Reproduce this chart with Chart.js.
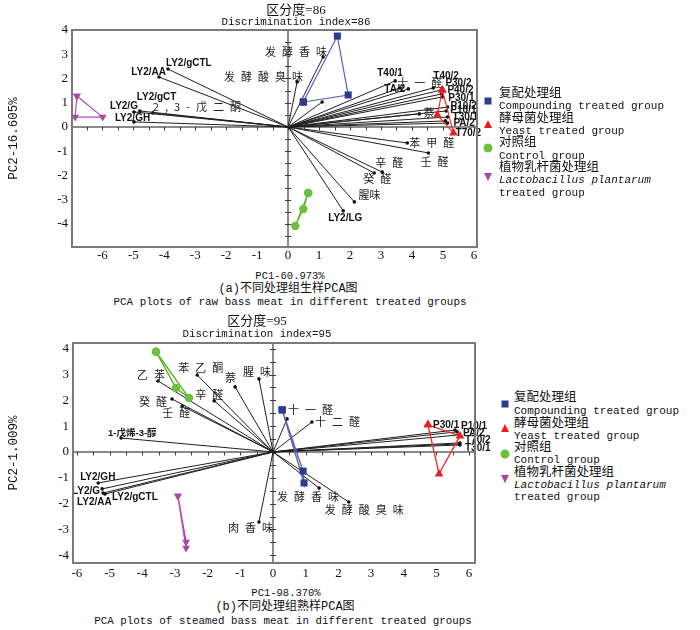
<!DOCTYPE html>
<html><head><meta charset="utf-8">
<script src="https://cdn.jsdelivr.net/npm/chart.js@4.4.1/dist/chart.umd.min.js"></script>
<style>
body{margin:0;background:#fff;width:700px;height:630px;position:relative;overflow:hidden;}
.t{position:absolute;white-space:nowrap;color:#111;line-height:1;transform:translate(-50%,-50%);}
.l{position:absolute;white-space:nowrap;color:#111;line-height:1;transform:translateY(-50%);}
.cjk{font-family:"Liberation Serif","Noto Sans CJK SC";}
.mono{font-family:"Liberation Mono","Noto Sans CJK SC";}
.wrap{position:absolute;left:0;width:500px;}
.mk{position:absolute;transform:translate(-50%,-50%);}
</style></head>
<body>
<div class="wrap" style="top:0;height:265px;"><canvas id="chartA"></canvas></div>
<div class="wrap" style="top:310px;height:273px;"><canvas id="chartB"></canvas></div>

<div class="t cjk" style="left:296px;top:9px;font-size:13px;">区分度=86</div>
<div class="t mono" style="left:296px;top:22px;font-size:10.8px;">Discrimination index=86</div>
<div class="t mono" style="left:290px;top:276px;font-size:10.5px;">PC1-60.973%</div>
<div class="t mono" style="left:288px;top:289px;font-size:12px;">(a)不同处理组生样PCA图</div>
<div class="t mono" style="left:290px;top:302px;font-size:10.9px;">PCA plots of raw bass meat in different treated groups</div>

<div class="t cjk" style="left:257px;top:320px;font-size:13px;">区分度=95</div>
<div class="t mono" style="left:257px;top:334px;font-size:10.8px;">Discrimination index=95</div>
<div class="t mono" style="left:286px;top:593px;font-size:10.5px;">PC1-98.370%</div>
<div class="t mono" style="left:285px;top:607px;font-size:12px;">(b)不同处理组熟样PCA图</div>
<div class="t mono" style="left:283px;top:621px;font-size:10.85px;">PCA plots of steamed bass meat in different treated groups</div>

<script>
// ===================== (a) raw bass meat =====================
const rawLoadingNames = ['LY2/gCTL','LY2/AA','LY2/gCT','LY2/G','2,3-戊二酮','LY2/GH','发酵香味','发酵酸臭味','',
  'T40/1','十一醛','TA/2','T40/2','P30/2','P40/2','P30/1','P10/2','P10/1','萘','T30/1','PA/2','T70/2',
  '苯甲醛','壬醛','辛醛','癸醛','腥味','LY2/LG'];
const rawLoadingPC1 = [-3.88,-4.17,-4.79,-4.98,-4.37,-4.98,1.13,0.29,1.10,
  3.46,3.62,3.88,4.69,4.95,4.95,4.98,5.15,5.11,4.24,5.15,5.08,5.15,
  3.85,4.53,3.04,2.78,2.14,1.78];
const rawLoadingPC2 = [2.39,2.06,0.66,0.62,0.58,0.21,2.89,1.86,1.03,
  1.90,1.61,1.57,1.61,1.53,1.36,1.24,0.82,0.66,0.54,0.41,0.25,0.16,
  -0.66,-1.07,-1.86,-1.90,-3.09,-3.46];
const rawCompoundingPC1 = [0.49,1.59,1.94];
const rawCompoundingPC2 = [1.03,3.75,1.32];
const rawYeastPC1 = [4.98,4.82,5.34];
const rawYeastPC2 = [1.53,0.49,-0.25];
const rawControlPC1 = [0.65,0.49,0.23];
const rawControlPC2 = [-2.72,-3.38,-4.08];
const rawLactoPC1 = [-6.82,-6.88,-5.99];
const rawLactoPC2 = [1.28,0.41,0.41];

// ===================== (b) steamed bass meat =====================
const steamLoadingNames = ['乙苯','苯乙酮','萘','腥味','辛醛','癸醛','壬醛','1-戊烯-3-醇','十一醛','十二醛',
  'P30/1','P10/1','PA/2','T70/2','T30/1','',
  'LY2/GH','LY2/G','LY2/AA','LY2/gCTL','发酵香味','发酵酸臭味','肉香味'];
const steamLoadingPC1 = [-3.52,-2.32,-1.16,-0.43,-1.80,-3.09,-2.78,-4.65,0.43,1.19,
  5.57,5.63,5.69,5.72,5.72,5.70,
  -5.35,-5.23,-5.20,-5.14,1.41,2.32,-0.43];
const steamLoadingPC2 = [2.75,2.98,2.52,2.83,1.98,2.05,1.78,0.54,1.28,1.16,
  0.85,0.78,0.66,0.35,0.27,0.31,
  -1.20,-1.43,-1.59,-1.63,-1.40,-1.94,-2.71];
const steamCompoundingPC1 = [0.28,0.92,0.95];
const steamCompoundingPC2 = [1.63,-0.74,-1.20];
const steamYeastPC1 = [4.74,5.72,5.08];
const steamYeastPC2 = [1.05,0.62,-0.85];
const steamControlPC1 = [-3.58,-2.97,-2.57];
const steamControlPC2 = [3.88,2.48,2.09];
const steamLactoPC1 = [-2.91,-2.66,-2.66];
const steamLactoPC2 = [-1.71,-3.49,-3.72];

// tick values
const tickStep = 1;

// legend text
const groupNamesCN = ['复配处理组','酵母菌处理组','对照组','植物乳杆菌处理组'];
const groupNamesEN = ['Compounding treated group','Yeast treated group','Control group','Lactobacillus plantarum'];

// ---------- label layout (offsets in px, alignment, text style) ----------
const rawLabelLayout = [[-2,-6,'left','en'],[7,-5,'right','en'],[-3,-14,'left','en'],[4,-6,'right','en'],[0,-6,'left','cn'],[-19,-4,'left','en'],
  [4,-5,'right','cn'],[6,-5,'right','cn'],[0,0,'left','en'],
  [-18,-8,'left','en'],[-3,-5,'left','cn'],[-3,0,'right','en'],[0,-12,'left','en'],[4,-7,'left','en'],[6,-4,'left','en'],[6,1,'left','en'],
  [3,-1,'left','en'],[4,-1,'left','en'],[4,-1,'left','cn'],[5,0,'left','en'],[8,2,'left','en'],[8,10,'left','en'],
  [2,0,'left','cn'],[-8,9,'left','cn'],[-7,-9,'left','cn'],[-11,6,'left','cn'],[4,-7,'left','cn0'],[-15,7,'left','en']];
const steamLabelLayout = [[-21,-6,'left','cn'],[-19,-7,'left','cn'],[-10,-9,'left','cn'],[-16,-7,'left','cn'],[-19,-6,'left','cn'],
  [-5,3,'right','cn'],[-20,7,'left','cn'],[-13,-5,'left','mix'],[1,-9,'left','cn'],[3,0,'left','cn'],
  [-22,-5,'left','en'],[4,-6,'left','en'],[4,-2,'left','en'],[5,-3,'left','en'],[5,3,'left','en'],[0,0,'left','en'],
  [-18,-6,'left','en'],[-2,2,'right','en'],[-26,9,'left','en'],[7,3,'left','en'],[-42,9,'left','cn'],[-24,8,'left','cn'],[-31,6,'left','cn']];

const groupStyles = [
  {line:'#5b5fb5', fill:'#2e3a8a', shape:'rect', r:5, rot:0},
  {line:'#f03030', fill:'#ee1c1c', shape:'triangle', r:5, rot:0},
  {line:'#5cb52e', fill:'#6cc03c', shape:'circle', r:4.2, rot:0},
  {line:'#b548b5', fill:'#a34aa3', shape:'triangle', r:4.5, rot:180}
];

function groupDataset(pc1, pc2, st, lw){
  const pts = pc1.map((v,i)=>({x:v, y:pc2[i]}));
  pts.push(pts[0]);
  return {data:pts, showLine:true, borderColor:st.line, borderWidth:lw, pointStyle:st.shape, pointRotation:st.rot,
    pointRadius:st.r, pointBackgroundColor:st.fill, pointBorderColor:st.fill, pointBorderWidth:0, clip:false, order:0};
}
function loadingDatasets(names, pc1, pc2){
  return names.map((n,i)=>({data:[{x:0,y:0},{x:pc1[i],y:pc2[i]}], showLine:true, borderColor:'#1f1f1f', borderWidth:1,
    pointRadius:[0,1.8], pointBackgroundColor:'#111', pointBorderWidth:0, clip:false, order:1}));
}

const labelPlugin = {
  id:'loadingLabels',
  afterDatasetsDraw(chart, args, opts){
    const {ctx} = chart; const xs = chart.scales.x, ys = chart.scales.y;
    ctx.save();
    ctx.textBaseline = 'middle';
    opts.names.forEach((name,i)=>{
      if(!name) return;
      const [dx,dy,align,kind] = opts.layout[i];
      let sp = 0;
      if(kind==='en'){ ctx.font='bold 10px "Liberation Sans"'; ctx.fillStyle='#111'; }
      else if(kind==='mix'){ ctx.font='bold 9.5px "Liberation Sans","Noto Sans CJK SC"'; ctx.fillStyle='#111'; }
      else { ctx.font='11px "Noto Sans CJK SC"'; ctx.fillStyle='#222'; sp = kind==='cn0'?0:6; }
      ctx.letterSpacing = sp+'px';
      ctx.textAlign = align;
      const px = xs.getPixelForValue(opts.pc1[i]) + dx + (align==='right'?sp:0);
      const py = ys.getPixelForValue(opts.pc2[i]) + dy;
      ctx.fillText(name, px, py);
    });
    ctx.letterSpacing = '0px';
    ctx.restore();
  }
};

const framePlugin = {
  id:'frameTicks',
  beforeDatasetsDraw(chart){
    const {ctx} = chart; const xs = chart.scales.x, ys = chart.scales.y;
    const x0 = xs.getPixelForValue(0), y0 = ys.getPixelForValue(0);
    ctx.save();
    ctx.strokeStyle = '#3a3a3a'; ctx.lineWidth = 1;
    for(let v=Math.ceil(xs.min*2)/2; v<=xs.max; v+=0.5){
      const p = Math.round(xs.getPixelForValue(v))+0.5;
      ctx.beginPath(); ctx.moveTo(p,y0); ctx.lineTo(p,y0+3.5); ctx.stroke();
    }
    for(let v=Math.ceil(ys.min*2)/2; v<=ys.max; v+=0.5){
      const p = Math.round(ys.getPixelForValue(v))+0.5;
      ctx.beginPath(); ctx.moveTo(x0-3,p); ctx.lineTo(x0+3,p); ctx.stroke();
    }
    ctx.restore();
  },
  afterDraw(chart){
    const {ctx, chartArea:a} = chart;
    ctx.save(); ctx.strokeStyle='#7a7a7a'; ctx.lineWidth=2;
    ctx.strokeRect(a.left, a.top, a.right-a.left, a.bottom-a.top);
    ctx.restore();
  }
};

const zeroColor = c => (c.tick && c.tick.value===0) ? '#8a8a8a' : 'rgba(0,0,0,0)';
const zeroWidth = c => (c.tick && c.tick.value===0) ? 2 : 1;

function makeScales(xmin,xmax,ymin,ymax,yTitle,xH,yW,xPad){
  const tickFont = {family:'Liberation Serif', size:13};
  return {
    x:{type:'linear', min:xmin, max:xmax, afterFit(s){s.height=xH;},
      ticks:{stepSize:tickStep, includeBounds:false, autoSkip:false, maxRotation:0, font:tickFont, color:'#111', padding:xPad},
      grid:{drawTicks:false, color:zeroColor, lineWidth:zeroWidth}, border:{display:false}},
    y:{type:'linear', min:ymin, max:ymax, afterFit(s){s.width=yW;},
      ticks:{stepSize:tickStep, includeBounds:false, autoSkip:false, font:tickFont, color:'#111', padding:4},
      grid:{drawTicks:false, color:zeroColor, lineWidth:zeroWidth}, border:{display:false},
      title:{display:true, text:yTitle, color:'#111', font:{family:'Liberation Mono', size:12.5}, padding:{top:6,bottom:0}}}
  };
}

function makeChart(id, groups, names, pc1, pc2, layout, scales, padding, lw){
  const ds = [];
  groups.forEach((g,i)=>ds.push(groupDataset(g[0], g[1], groupStyles[i], lw)));
  loadingDatasets(names, pc1, pc2).forEach(d=>ds.push(d));
  return new Chart(document.getElementById(id), {
    type:'scatter',
    data:{datasets:ds},
    options:{responsive:true, maintainAspectRatio:false, animation:false,
      layout:{padding:padding},
      plugins:{legend:{display:false}, tooltip:{enabled:false},
        loadingLabels:{names:names, pc1:pc1, pc2:pc2, layout:layout}},
      scales:scales},
    plugins:[framePlugin, labelPlugin]
  });
}

makeChart('chartA',
  [[rawCompoundingPC1,rawCompoundingPC2],[rawYeastPC1,rawYeastPC2],[rawControlPC1,rawControlPC2],[rawLactoPC1,rawLactoPC2]],
  rawLoadingNames, rawLoadingPC1, rawLoadingPC2, rawLabelLayout,
  makeScales(-6.98, 6.1, -4.95, 4.0, 'PC2-16.605%', 18, 72, 1),
  {left:0, top:30, right:23, bottom:0}, 1.2);

makeChart('chartB',
  [[steamCompoundingPC1,steamCompoundingPC2],[steamYeastPC1,steamYeastPC2],[steamControlPC1,steamControlPC2],[steamLactoPC1,steamLactoPC2]],
  steamLoadingNames, steamLoadingPC1, steamLoadingPC2, steamLabelLayout,
  makeScales(-6.12, 6.18, -4.30, 4.22, 'PC2-1.009%', 20, 73, 3),
  {left:0, top:33, right:25, bottom:0}, 1.4);

// ---------- HTML legends ----------
function marker(st, x, y){
  const d = document.createElement('div'); d.className='mk';
  d.style.left=x+'px'; d.style.top=y+'px';
  if(st.shape==='rect'){ d.style.width='7px'; d.style.height='7px'; d.style.background=st.fill; }
  else if(st.shape==='circle'){ d.style.width='9px'; d.style.height='9px'; d.style.borderRadius='50%'; d.style.background=st.fill; }
  else if(st.rot===180){ d.style.width='0'; d.style.height='0'; d.style.borderLeft='4.5px solid transparent'; d.style.borderRight='4.5px solid transparent'; d.style.borderTop='8px solid '+st.fill; }
  else { d.style.width='0'; d.style.height='0'; d.style.borderLeft='4.5px solid transparent'; d.style.borderRight='4.5px solid transparent'; d.style.borderBottom='8px solid '+st.fill; }
  document.body.appendChild(d);
}
function text(cls, str, x, y, size, italic){
  const d = document.createElement('div'); d.className='l '+cls;
  d.style.left=x+'px'; d.style.top=y+'px'; d.style.fontSize=size+'px';
  if(italic) d.style.fontStyle='italic';
  d.textContent=str; document.body.appendChild(d);
}
function legend(mx, tx, ys){
  groupNamesCN.forEach((cn,i)=>{
    const r = ys[i];
    marker(groupStyles[i], mx, r[2]);
    text('cjk', cn, tx, r[0], 12.5);
    text('mono', groupNamesEN[i], tx, r[1], 11, i===3);
    if(i===3) text('mono', 'treated group', tx, r[3], 11);
  });
}
legend(488, 499, [[93,106,101],[118,131,124],[142,156,148],[167,180,177,193]]);
legend(505, 514, [[397,411,404],[423,436,428],[447,460,454],[472,485,479,497]]);
</script>
</body></html>
